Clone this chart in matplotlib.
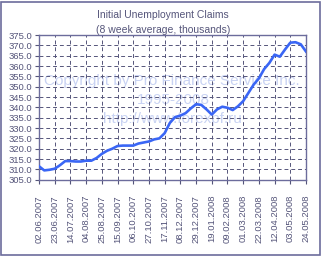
import matplotlib.pyplot as plt
import matplotlib.dates as mdates
import pandas as pd
from matplotlib.patches import Rectangle

# --- DATA ---
weeks = pd.date_range('2007-06-02', periods=52, freq='7D')
claims = [311.5, 309.5, 309.8, 310.3, 312.0, 314.0, 314.0, 313.8, 313.8, 314.2,
          314.2, 315.5, 317.5, 319.0, 320.0, 321.3, 321.5, 321.5, 321.5, 322.5,
          323.0, 323.5, 324.5, 325.0, 327.5, 332.5, 335.3, 336.0, 337.2, 339.5,
          341.5, 341.2, 339.0, 336.5, 339.0, 340.3, 339.8, 338.7, 340.5, 343.0,
          347.0, 351.0, 354.0, 358.5, 361.5, 365.5, 364.5, 368.0, 371.3, 371.5,
          370.5, 367.0]
tick_dates = weeks[::3]

txt = '#55557a'
frame = '#6c6c9c'

plt.rcParams['font.family'] = ['Liberation Sans', 'DejaVu Sans']
fig = plt.figure(figsize=(3.21, 2.56), dpi=100)
ax = fig.add_axes([39/321, 1 - 179.7/256, 267/321, 144.7/256])
ax.set_facecolor('none')

# border round the whole picture
fig.patches.append(Rectangle((1.5/321, 1.5/256), 318/321, 253/256, transform=fig.transFigure,
                             fill=False, edgecolor=frame, linewidth=1.2))

ax.plot(weeks, claims, color='#3a66f5', linewidth=1.9, zorder=3)

ax.set_xlim(weeks[0], weeks[-1])
ax.set_ylim(305, 375)
ax.set_yticks(range(305, 376, 5))
ax.yaxis.set_major_formatter(plt.FormatStrFormatter('%.1f'))
ax.set_xticks(tick_dates)
ax.xaxis.set_major_formatter(mdates.DateFormatter('%d.%m.%Y'))
plt.setp(ax.get_xticklabels(), rotation=90)
ax.tick_params(axis='both', labelsize=6.8, colors=txt, length=3, width=0.8, pad=2)
ax.tick_params(axis='x', pad=8)
ax.grid(True, color='#55557a', linestyle=(0, (4, 3)), linewidth=0.7)
ax.set_axisbelow(True)
for s in ax.spines.values():
    s.set_color(frame)
    s.set_linewidth(1.0)

# watermark, behind the grid
wm = dict(ha='center', va='center', fontsize=11, color='#c9d3f3', zorder=-1)
fig.text(172/321, 1 - 81/256, 'Copyright by Pro Finance Service Inc.', **wm)
fig.text(173/321, 1 - 100/256, '1995-2008', **wm)
fig.text(172/321, 1 - 119/256, 'http://www.forexpf.ru', **wm)

fig.text(163/321, 1 - 15/256, 'Initial Unemployment Claims', ha='center', va='center', fontsize=7.5, color=txt)
fig.text(163/321, 1 - 30/256, '(8 week average, thousands)', ha='center', va='center', fontsize=7.5, color=txt)

fig.savefig('out.png', dpi=100)
